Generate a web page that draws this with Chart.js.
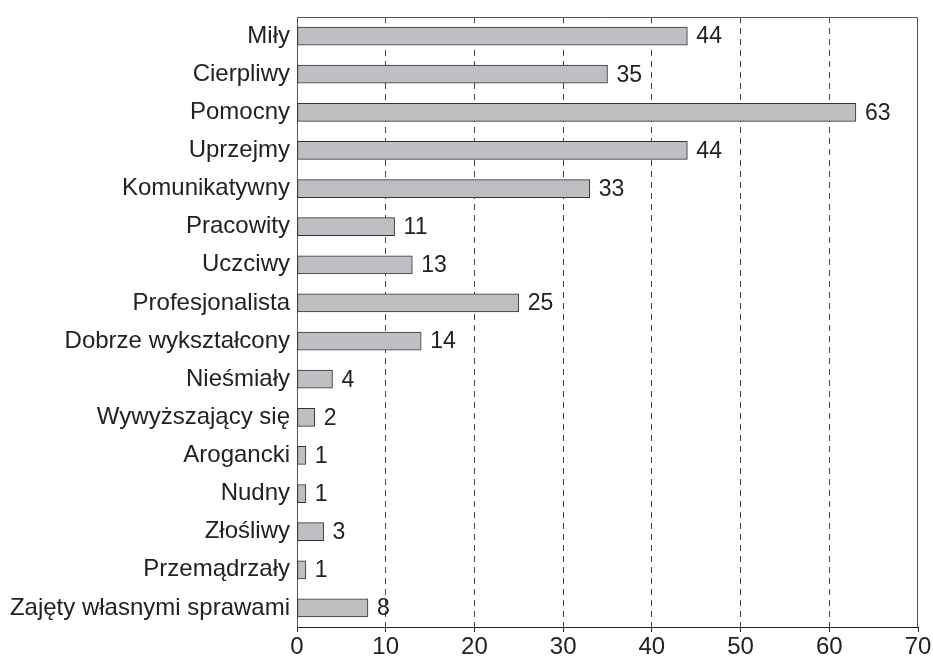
<!DOCTYPE html>
<html>
<head>
<meta charset="utf-8">
<script src="https://cdn.jsdelivr.net/npm/chart.js@4"></script>
<style>
  html, body { margin: 0; padding: 0; background: #fff; }
  #wrap { width: 933px; height: 661px; }
</style>
</head>
<body>
<div id="wrap"><canvas id="traitsBarChart"></canvas></div>
<script>
// Data
var categories = ['Miły', 'Cierpliwy', 'Pomocny', 'Uprzejmy', 'Komunikatywny', 'Pracowity', 'Uczciwy',
    'Profesjonalista', 'Dobrze wykształcony', 'Nieśmiały', 'Wywyższający się', 'Arogancki', 'Nudny',
    'Złośliwy', 'Przemądrzały', 'Zajęty własnymi sprawami'];
var counts = [44, 35, 63, 44, 33, 11, 13, 25, 14, 4, 2, 1, 1, 3, 1, 8];
var xTicks = [0, 10, 20, 30, 40, 50, 60, 70];

var FONT = '"Liberation Sans", Arial, sans-serif';

// value labels next to bar ends + outer frame
var valueLabels = {
    id: 'valueLabels',
    afterDatasetsDraw: function (chart) {
        var ctx = chart.ctx;
        var meta = chart.getDatasetMeta(0);
        ctx.save();
        ctx.font = '23px ' + FONT;
        ctx.fillStyle = '#222';
        ctx.textAlign = 'left';
        ctx.textBaseline = 'middle';
        meta.data.forEach(function (bar, i) {
            ctx.fillText(String(counts[i]), bar.x + 9, bar.y + 1);
        });
        ctx.restore();
    },
    afterDraw: function (chart) {
        var a = chart.chartArea;
        var ctx = chart.ctx;
        ctx.save();
        ctx.strokeStyle = '#555';
        ctx.lineWidth = 1;
        ctx.beginPath();
        ctx.moveTo(a.left, a.top + 0.5);
        ctx.lineTo(a.right - 0.5, a.top + 0.5);
        ctx.lineTo(a.right - 0.5, a.bottom);
        ctx.stroke();
        ctx.restore();
    }
};

var ctx1 = document.getElementById('traitsBarChart').getContext('2d');
var traitsBarChart = new Chart(ctx1, {
    type: 'bar',
    data: {
        labels: categories,
        datasets: [{
            data: counts,
            backgroundColor: 'rgb(190, 191, 194)',
            borderColor: '#333',
            borderWidth: 1,
            borderSkipped: false,
            barThickness: 18
        }]
    },
    options: {
        indexAxis: 'y',
        responsive: true,
        maintainAspectRatio: false,
        animation: false,
        layout: { padding: { top: 17, right: 15, left: 0, bottom: 0 } },
        scales: {
            x: {
                min: 0,
                max: 70,
                afterBuildTicks: function (scale) {
                    scale.ticks = xTicks.map(function (v) { return { value: v }; });
                },
                afterFit: function (scale) { scale.height = 34; },
                grid: {
                    color: function (c) {
                        var v = c.tick ? c.tick.value : null;
                        return (v === 0 || v === 70) ? 'rgba(0,0,0,0)' : '#444';
                    },
                    lineWidth: 1,
                    tickLength: 5,
                    tickColor: '#222',
                    tickBorderDash: []
                },
                border: { display: true, color: '#222', width: 1, dash: [6, 5] },
                ticks: {
                    color: '#222',
                    font: { family: FONT, size: 24 },
                    padding: 1,
                    maxRotation: 0
                }
            },
            y: {
                afterFit: function (scale) {
                    scale.width = 297;
                    scale.paddingTop = 0;
                    scale.paddingBottom = 0;
                },
                grid: { display: false, drawTicks: false },
                border: { display: true, color: '#555', width: 1 },
                ticks: {
                    color: '#222',
                    font: { family: FONT, size: 24 },
                    padding: 7
                }
            }
        },
        plugins: {
            legend: { display: false },
            tooltip: { enabled: false }
        }
    },
    plugins: [valueLabels]
});
</script>
</body>
</html>
